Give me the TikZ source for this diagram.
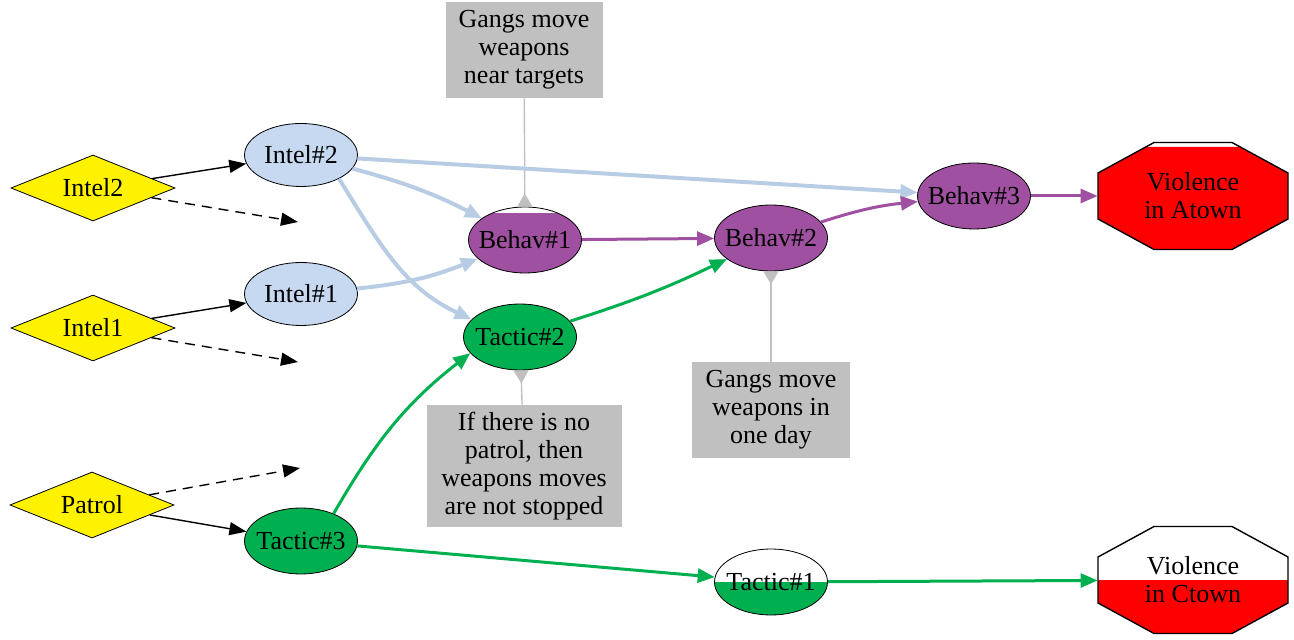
\documentclass[tikz,border=0pt]{standalone}
\usepackage{fontspec}
\setmainfont{Liberation Serif}
\newfontfamily\labelfont{Liberation Serif}
\usetikzlibrary{arrows.meta,shapes.geometric,backgrounds}
\definecolor{lblue}{HTML}{C6D9F1}
\definecolor{skyline}{HTML}{B8CCE4}
\definecolor{plum}{HTML}{A050A0}
\definecolor{leaf}{HTML}{00B050}
\definecolor{shade}{HTML}{C0C0C0}

\begin{document}
\begin{tikzpicture}[x=0.5pt,y=-0.5pt, every node/.style={font=\labelfont\fontsize{13}{14}\selectfont,align=center},
  src/.style={diamond,draw,fill=yellow,shape aspect=2.5,minimum width=82pt,minimum height=33pt,inner sep=0pt},
  oval/.style={ellipse,draw,minimum width=56.5pt,inner xsep=-3.5pt,inner ysep=0pt},
  intel/.style={oval,fill=lblue,minimum height=31.5pt},
  behav/.style={oval,fill=plum,minimum height=33pt},
  tactic/.style={oval,fill=leaf,minimum height=33pt},
  outcome/.style={rectangle,minimum width=95pt,minimum height=53.5pt,inner sep=0pt},
  note/.style={fill=shade,inner sep=0pt},
  capwhite/.style={path picture={\fill[white] (path picture bounding box.north west) rectangle ([yshift=-#1]path picture bounding box.north east);}},
  halfwhite/.style={path picture={\fill[white] (path picture bounding box.north west) rectangle (path picture bounding box.east);}},
  arr/.style={-{Triangle[length=8.5pt,width=6.5pt]},line width=0.7pt},
  dasharr/.style={arr,dash pattern=on 5pt off 3.5pt},
  blue arr/.style={-{Triangle[length=8.5pt,width=7pt]},line width=2pt,draw=skyline},
  plum arr/.style={-{Triangle[length=8.5pt,width=7pt]},line width=1.5pt,draw=plum},
  leaf arr/.style={-{Triangle[length=8.5pt,width=7pt]},line width=1.5pt,draw=leaf},
  pin/.style={{Triangle[length=6.5pt,width=7.5pt,reversed]}-,line width=0.7pt,draw=shade}]
\useasboundingbox (0,0) rectangle (1294,640);
% sources
\node[src] (intel2) at (93,188) {Intel2};
\node[src] (intel1) at (93,328) {Intel1};
\node[src] (patrol) at (92,505) {Patrol};
\coordinate (intel2x) at (298,222);
\coordinate (intel1x) at (298,362);
\coordinate (patrolx) at (300,468);
% intelligence, behaviour, tactics
\node[intel] (ie2) at (301,155) {Intel\#2};
\node[intel] (ie1) at (301,294) {Intel\#1};
\node[behav,capwhite=3pt] (behav1) at (525,240) {Behav\#1};
\node[behav] (behav2) at (771,238) {Behav\#2};
\node[behav] (behav3) at (974,196) {Behav\#3};
\node[tactic] (tactic2) at (520,337) {Tactic\#2};
\node[tactic] (tactic3) at (301,541) {Tactic\#3};
\node[tactic,halfwhite] (tactic1) at (771,582) {Tactic\#1};
\node[outcome] (atown) at (1193,196) {Violence\\in Atown};
\node[outcome] (ctown) at (1193,580) {Violence\\in Ctown};
\begin{scope}[on background layer]
\fill[red,shift={(atown.center)}] (-95,-23) -- (-47,-49) -- (47,-49) -- (95,-23) -- (95,23) -- (39,53.5) -- (-39,53.5) -- (-95,23) -- cycle;
\fill[red,shift={(ctown.center)}] (-95,0) -- (95,0) -- (95,23) -- (39,53.5) -- (-39,53.5) -- (-95,23) -- cycle;
\foreach \town in {atown,ctown}
  \draw[line width=0.7pt,shift={(\town.center)}] (-95,-23) -- (-39,-53.5) -- (39,-53.5) -- (95,-23) -- (95,23) -- (39,53.5) -- (-39,53.5) -- (-95,23) -- cycle;
\end{scope}
% notes
\node[note,minimum width=78.5pt,minimum height=48pt] (note1) at (524,50) {Gangs move\\weapons\\near targets};
\node[note,minimum width=79pt,minimum height=48pt] (note2) at (771,410) {Gangs move\\weapons in\\one day};
\node[note,minimum width=97.5pt,minimum height=61pt] (note3) at (524,466) {If there is no\\patrol, then\\weapons moves\\are not stopped};
\draw[pin] (behav1) -- (note1); \draw[pin] (behav2) -- (note2); \draw[pin] (tactic2) -- (note3);
% connectors
\draw[arr] (intel2) -- (ie2); \draw[dasharr] (intel2) -- (intel2x);
\draw[arr] (intel1) -- (ie1); \draw[dasharr] (intel1) -- (intel1x);
\draw[arr] (patrol) -- (tactic3); \draw[dasharr] (patrol) -- (patrolx);
\draw[blue arr] (ie2) -- (behav3);
\draw[blue arr] (ie2) to[bend left=6] (behav1);
\draw[blue arr] (ie2.-32) to[out=-58,in=155] (tactic2.160);
\draw[blue arr] (ie1) to[bend right=8] (behav1);
\draw[plum arr] (behav1) -- (behav2);
\draw[plum arr] (behav2) to[bend left=6] (behav3);
\draw[plum arr] (behav3) -- (atown);
\draw[leaf arr] (tactic3.40) to[out=60,in=218] (tactic2.198);
\draw[leaf arr] (tactic2) to[bend right=4] (behav2);
\draw[leaf arr] (tactic3) -- (tactic1);
\draw[leaf arr] (tactic1) -- (ctown);
\end{tikzpicture}
\end{document}
